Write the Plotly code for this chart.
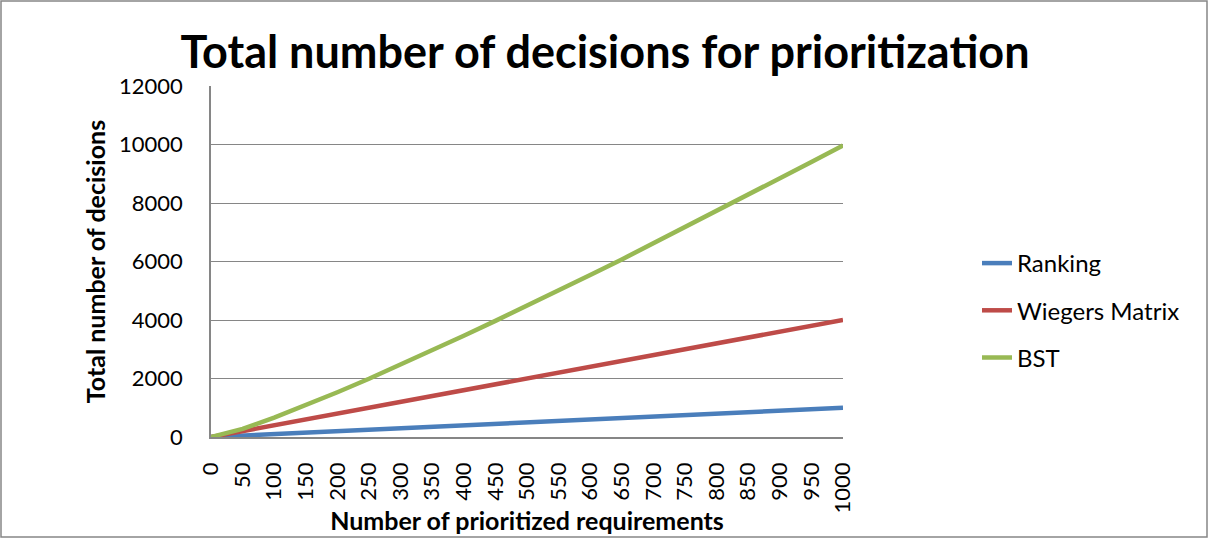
import plotly.graph_objects as go

requirements = [0, 50, 100, 150, 200, 250, 300, 350, 400, 450, 500,
                550, 600, 650, 700, 750, 800, 850, 900, 950, 1000]
ranking = [0, 50, 100, 150, 200, 250, 300, 350, 400, 450, 500,
           550, 600, 650, 700, 750, 800, 850, 900, 950, 1000]
wiegers = [0, 200, 400, 600, 800, 1000, 1200, 1400, 1600, 1800, 2000,
           2200, 2400, 2600, 2800, 3000, 3200, 3400, 3600, 3800, 4000]
bst = [0, 280, 660, 1080, 1530, 1990, 2470, 2960, 3460, 3970, 4480,
       5010, 5540, 6070, 6620, 7160, 7720, 8270, 8830, 9400, 9970]

series = [("Ranking", ranking, "#4A7EBB"),
          ("Wiegers Matrix", wiegers, "#BE4B48"),
          ("BST", bst, "#98B954")]

FONT = "Lato, Carlito, Calibri, sans-serif"
L, R, T, B = 211, 843, 86, 437
W, H = 1210, 539

fig = go.Figure()
for i, (name, vals, col) in enumerate(series):
    fig.add_trace(go.Scatter(x=requirements, y=vals, mode="lines", name=name,
                             legendgroup=f"g{i}",
                             line=dict(color=col, width=4.5)))

fig.update_layout(
    width=W, height=H,
    margin=dict(l=L, r=W - R, t=T, b=H - B, autoexpand=False),
    paper_bgcolor="white", plot_bgcolor="white",
    font=dict(family=FONT, color="black", size=22),
    title=dict(text="<b>Total number of decisions for prioritization</b>",
               x=0.5, xref="container", xanchor="center",
               y=1 - 52 / H, yref="container", yanchor="middle",
               font=dict(size=45, family=FONT, color="black")),
    showlegend=True,
    legend=dict(x=(977 - L) / (R - L), xanchor="left",
                y=(B - 241) / (B - T), yanchor="top",
                font=dict(size=24, family=FONT, color="black"),
                tracegroupgap=13, traceorder="grouped",
                bgcolor="rgba(0,0,0,0)"),
)

fig.update_xaxes(range=[0, 1000], tickmode="array", tickvals=requirements,
                 ticktext=[str(v) for v in requirements], tickangle=-90,
                 showgrid=False, showline=True, linecolor="#868686", linewidth=1.5,
                 ticks="", zeroline=False, ticklabelstandoff=15, automargin=False,
                 tickfont=dict(size=22, family=FONT, color="black"),
                 title=dict(text="<b>Number of prioritized requirements</b>",
                            font=dict(size=25, family=FONT, color="black"),
                            standoff=0))
fig.update_yaxes(range=[0, 12000], dtick=2000, tickformat="d",
                 showgrid=True, gridcolor="#868686",
                 gridwidth=1, showline=True, linecolor="#868686", linewidth=1.5,
                 ticks="", zeroline=False, ticklabelstandoff=22, automargin=False,
                 tickfont=dict(size=22, family=FONT, color="black"),
                 title=dict(text="<b>Total number of decisions</b>",
                            font=dict(size=25, family=FONT, color="black"),
                            standoff=6))

# outer chart frame
fig.add_shape(type="rect", xref="paper", yref="paper",
              x0=(1 - L) / (R - L), x1=(1207 - L) / (R - L),
              y0=(B - 537) / (B - T), y1=(B - 1) / (B - T),
              line=dict(color="#868686", width=1.5), layer="below")

fig.write_html("out.html")
